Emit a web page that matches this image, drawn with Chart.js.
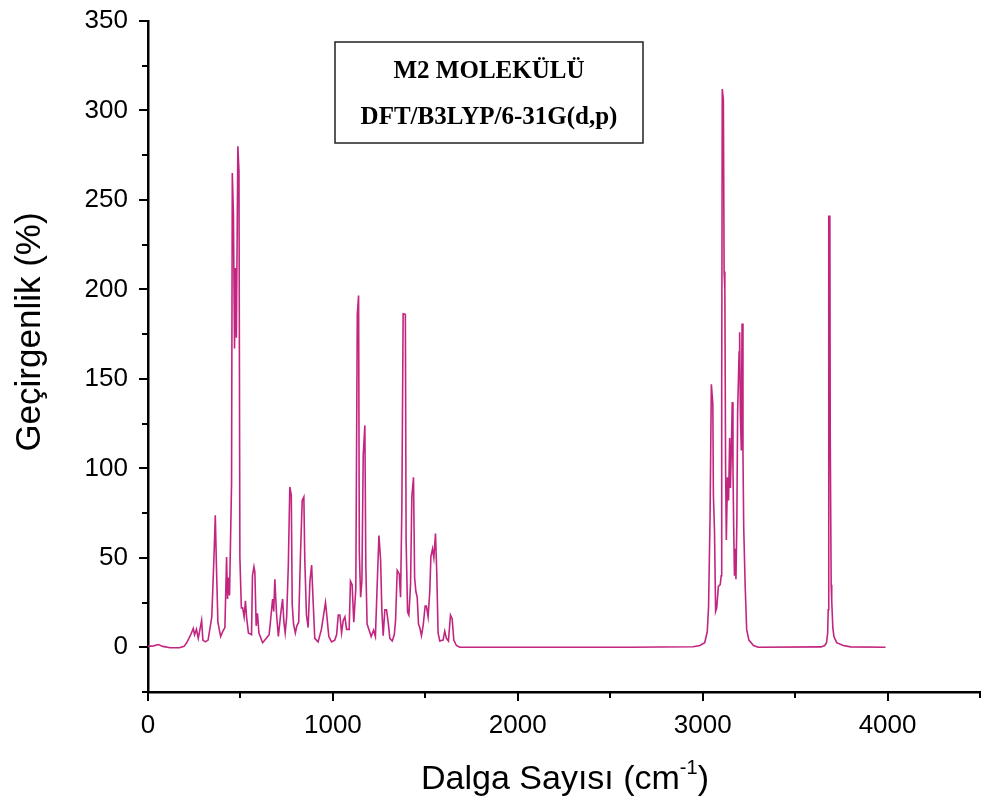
<!DOCTYPE html>
<html>
<head>
<meta charset="utf-8">
<script src="https://cdn.jsdelivr.net/npm/chart.js@4.4.1/dist/chart.umd.min.js"></script>
<style>
  body { margin: 0; background: #fff; }
  #ir-chart { display: block; }
</style>
</head>
<body>
<canvas id="ir-chart" width="987" height="805"></canvas>
<script>
// IR spectrum of M2 molecule
const wavenumber = [
  0, 30, 56, 80, 120, 170, 195, 209, 231, 245, 252, 262, 272, 290, 297, 310, 325, 345, 357, 364,
  370, 378, 393, 405, 416, 425, 430, 436, 441, 452, 456, 462, 468, 473, 478, 486, 492, 497, 505, 512,
  520, 527, 533, 543, 560, 565, 573, 578, 585, 592, 600, 620, 640, 655, 662, 674, 680, 686, 695, 705,
  717, 728, 735, 742, 750, 759, 767, 775, 780, 787, 797, 805, 815, 825, 834, 843, 848, 857, 866, 876,
  885, 893, 902, 920, 938, 951, 960, 965, 978, 993, 1010, 1020, 1029, 1038, 1047, 1056, 1065, 1074, 1088, 1095,
  1104, 1113, 1124, 1132, 1139, 1143, 1150, 1157, 1164, 1173, 1178, 1185, 1198, 1207, 1220, 1230, 1240, 1249, 1258, 1265,
  1272, 1281, 1290, 1299, 1308, 1321, 1332, 1339, 1348, 1359, 1366, 1373, 1380, 1392, 1396, 1404, 1411, 1420, 1427, 1436,
  1442, 1449, 1456, 1463, 1470, 1479, 1488, 1499, 1506, 1515, 1524, 1530, 1539, 1546, 1555, 1562, 1569, 1578, 1596, 1605,
  1614, 1625, 1636, 1645, 1654, 1668, 1686, 1800, 2200, 2600, 2948, 2985, 3011, 3025, 3032, 3040, 3047, 3055, 3058, 3064,
  3070, 3076, 3085, 3095, 3100, 3103, 3106, 3112, 3116, 3120, 3124, 3128, 3134, 3140, 3146, 3150, 3155, 3160, 3164, 3168,
  3172, 3176, 3180, 3185, 3189, 3193, 3197, 3200, 3204, 3209, 3213, 3218, 3222, 3230, 3238, 3250, 3275, 3300, 3640, 3660,
  3670, 3676, 3679, 3681, 3683, 3688, 3690, 3693, 3695, 3698, 3704, 3710, 3725, 3760, 3800, 3989
];
const transmittance = [
  0.5, 0.8, 1.5, 0.5, -0.3, -0.3, 0.5, 2.5, 7, 10.5, 7, 10, 5, 15, 4, 3, 4, 17, 51, 73.7,
  46, 14, 6, 9, 11, 50.5, 27, 39, 29, 91.6, 265, 242, 167, 212, 173, 280, 266, 50, 22, 22,
  17, 26, 17, 8, 7, 40, 45, 42, 12, 19, 8, 2.5, 5, 7, 14, 27, 20, 38, 19, 6,
  18, 27, 14, 8, 17, 46, 89.6, 85, 24, 13, 8, 12, 14, 53, 82, 84, 49, 18, 11, 37,
  46, 26, 5, 3, 10, 19, 25, 20, 6, 3, 4, 7, 18, 18, 8, 15, 17, 10, 10, 37,
  35, 14, 33, 186, 196.6, 53, 28, 37, 107, 124, 46, 13, 9, 6, 9.5, 6, 36, 62.5, 49, 20,
  6.5, 21, 21, 14, 5, 3.5, 7, 15, 43, 41, 28, 77.6, 186.4, 186, 60, 19.7, 18, 35, 84, 95,
  39, 31, 28, 13, 11, 6.5, 12, 23, 23, 17, 31, 50.5, 55, 50, 63.6, 41, 8, 3.5, 4, 9,
  5, 3.5, 18, 16, 4, 1, 0, 0, 0, 0, 0.3, 1, 2.5, 8.8, 23, 73, 147, 136, 85, 65,
  20, 22, 34, 35, 40, 142, 312, 306, 210, 200, 100, 60, 95, 82, 117, 89, 111, 137, 99, 66,
  40, 55, 38, 71, 131, 148, 165, 176, 130, 110, 181, 108, 67, 34, 10, 4, 1, 0, 0.2, 1,
  2.6, 8, 21, 50, 240.8, 240.8, 118, 118, 35, 26, 11, 6, 2.6, 1, 0.2, 0
];

const xTicks = [0, 1000, 2000, 3000, 4000];
const yTicks = [0, 50, 100, 150, 200, 250, 300, 350];
const titleLines = ['M2 MOLEKÜLÜ', 'DFT/B3LYP/6-31G(d,p)'];

const points = wavenumber.map((w, i) => ({ x: w, y: transmittance[i] }));

// no extra room for first/last labels, the plot box is fixed
function fixBox(s, size) {
  if (s.isHorizontal()) s.height = size; else s.width = size;
  s.paddingLeft = 0;
  s.paddingRight = 0;
  s.paddingTop = 0;
  s.paddingBottom = 0;
}

// ticks, axis titles and the caption box
const decorPlugin = {
  id: 'decor',
  afterDraw(chart) {
    const c = chart.ctx;
    const xs = chart.scales.x;
    const ys = chart.scales.y;
    const area = chart.chartArea;
    c.save();
    c.strokeStyle = '#000';
    c.lineWidth = 2;

    // tick marks pointing out
    xs.ticks.forEach(t => {
      const px = Math.round(xs.getPixelForValue(t.value));
      const len = xTicks.includes(t.value) ? 9 : 6;
      c.beginPath();
      c.moveTo(px, area.bottom);
      c.lineTo(px, area.bottom + len);
      c.stroke();
    });
    ys.ticks.forEach(t => {
      const py = Math.round(ys.getPixelForValue(t.value));
      const len = yTicks.includes(t.value) ? 9 : 6;
      c.beginPath();
      c.moveTo(area.left, py);
      c.lineTo(area.left - len, py);
      c.stroke();
    });

    // y title
    c.fillStyle = '#000';
    c.font = '35px "Liberation Sans", Arial, sans-serif';
    c.textAlign = 'center';
    c.textBaseline = 'middle';
    c.save();
    c.translate(30, 332);
    c.rotate(-Math.PI / 2);
    c.fillText('Geçirgenlik (%)', 0, 0);
    c.restore();

    // x title with superscript
    const main = 'Dalga Sayısı (cm';
    const sup = '-1';
    const end = ')';
    c.textBaseline = 'alphabetic';
    c.textAlign = 'left';
    c.font = '34px "Liberation Sans", Arial, sans-serif';
    const wMain = c.measureText(main).width;
    const wEnd = c.measureText(end).width;
    c.font = '20px "Liberation Sans", Arial, sans-serif';
    const wSup = c.measureText(sup).width;
    let x0 = 565 - (wMain + wSup + wEnd) / 2;
    const base = 789;
    c.font = '34px "Liberation Sans", Arial, sans-serif';
    c.fillText(main, x0, base);
    c.font = '20px "Liberation Sans", Arial, sans-serif';
    c.fillText(sup, x0 + wMain, base - 15);
    c.font = '34px "Liberation Sans", Arial, sans-serif';
    c.fillText(end, x0 + wMain + wSup, base);

    // caption box
    c.lineWidth = 1.5;
    c.strokeStyle = '#222';
    c.strokeRect(335, 42, 308, 101);
    c.font = 'bold 25px "Liberation Serif", "Times New Roman", serif';
    c.textAlign = 'center';
    c.fillText(titleLines[0], 489, 78);
    c.fillText(titleLines[1], 489, 124);
    c.restore();
  }
};

const ctx = document.getElementById('ir-chart');

const config = {
  type: 'line',
  data: {
    datasets: [{
      label: 'M2',
      data: points,
      borderColor: '#c2257f',
      borderWidth: 1.6,
      pointRadius: 0,
      tension: 0,
      fill: false
    }]
  },
  options: {
    responsive: false,
    animation: false,
    layout: { padding: { left: 0, top: 21, right: 7, bottom: 0 } },
    plugins: {
      legend: { display: false },
      tooltip: { enabled: false }
    },
    scales: {
      x: {
        type: 'linear',
        min: 0,
        max: 4500,
        afterFit: s => fixBox(s, 113),
        border: { display: true, color: '#000', width: 2.5 },
        grid: { display: false, drawTicks: false },
        ticks: {
          stepSize: 500,
          autoSkip: false,
          maxRotation: 0,
          padding: 18,
          color: '#000',
          font: { family: '"Liberation Sans", Arial, sans-serif', size: 26 },
          callback: v => xTicks.includes(v) ? String(v) : ''
        }
      },
      y: {
        min: -25,
        max: 350,
        afterFit: s => fixBox(s, 148),
        border: { display: true, color: '#000', width: 2.5 },
        grid: { display: false, drawTicks: false },
        ticks: {
          stepSize: 25,
          autoSkip: false,
          padding: 20,
          color: '#000',
          font: { family: '"Liberation Sans", Arial, sans-serif', size: 26 },
          callback: v => yTicks.includes(v) ? String(v) : ''
        }
      }
    }
  },
  plugins: [decorPlugin]
};

const irChart = new Chart(ctx, config);
</script>
</body>
</html>
